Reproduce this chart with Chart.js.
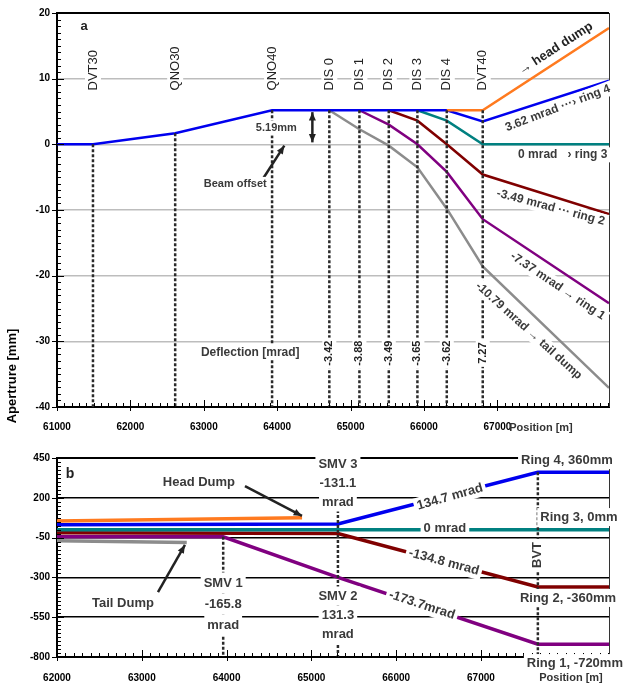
<!DOCTYPE html>
<html>
<head>
<meta charset="utf-8">
<script src="https://cdn.jsdelivr.net/npm/chart.js@4.4.1/dist/chart.umd.min.js"></script>
<style>
  body { margin: 0; background: #fff; }
  #wrap { position: relative; width: 631px; height: 688px; }
  canvas { position: absolute; left: 0; }
  #chartA { top: 0; }
  #chartB { top: 440px; }
</style>
</head>
<body>
<div id="wrap">
  <canvas id="chartA" width="631" height="440"></canvas>
  <canvas id="chartB" width="631" height="248"></canvas>
</div>
<script>
// ---- panel a : aperture vs position ----
const aXTicks = [61000, 62000, 63000, 64000, 65000, 66000, 67000];
const aYTicks = [20, 10, 0, -10, -20, -30, -40];
const elements = ['DVT30', 'QNO30', 'QNO40', 'DIS 0', 'DIS 1', 'DIS 2', 'DIS 3', 'DIS 4', 'DVT40'];
const elementPos = [61490, 62610, 63930, 64710, 65120, 65520, 65910, 66310, 66800];
const elementTop = [0, 1.7, 5.19, 5.19, 5.19, 5.19, 5.19, 5.19, 5.19];
const deflections = ['', '', '', '-3.42', '-3.88', '-3.49', '-3.65', '-3.62', '7.27'];

const ring4X = [61000, 61490, 62610, 63930, 66310, 66800, 68520];
const ring4Y = [0, 0, 1.7, 5.19, 5.19, 3.5, 9.7];
const headX = [66310, 66800, 68520];
const headY = [5.19, 5.19, 17.7];
const ring3X = [65910, 66310, 66800, 68520];
const ring3Y = [5.19, 3.6, 0, 0];
const ring2X = [65520, 65910, 66310, 66800, 68520];
const ring2Y = [5.19, 3.6, 0, -4.6, -10.6];
const ring1X = [65120, 65520, 65910, 66310, 66800, 68520];
const ring1Y = [5.19, 3.0, 0, -4.2, -11.4, -24.2];
const tailX = [64710, 65120, 65520, 65910, 66310, 66800, 68520];
const tailY = [5.19, 2.3, -0.2, -3.5, -9.8, -18.6, -37.1];

// ---- panel b : long view to the rings ----
const bXTicks = [62000, 63000, 64000, 65000, 66000, 67000];
const bYTicks = [450, 200, -50, -300, -550, -800];
const magnets = ['SMV 1', 'SMV 2', 'BVT'];
const magnetPos = [63960, 65313, 67671];
const magnetTop = [-45, 123, 360];

const bHeadX = [62000, 64890];
const bHeadY = [55, 75];
const bRing4X = [62000, 65313, 67671, 68510];
const bRing4Y = [30, 35, 360, 360];
const bRing3X = [62000, 68510];
const bRing3Y = [0, 0];
const bRing2X = [62000, 65313, 67671, 68510];
const bRing2Y = [-20, -25, -360, -360];
const bRing1X = [62000, 63960, 65313, 67671, 68510];
const bRing1Y = [-45, -45, -300, -720, -720];
const bTailX = [62000, 63530];
const bTailY = [-70, -80];

const FONT = 'Arial, "Liberation Sans", sans-serif';
const TXT = '#3a3a3a';

function pts(xs, ys) { return xs.map((x, i) => ({ x: x, y: ys[i] })); }

function line(label, xs, ys, color, width) {
  return { label: label, data: pts(xs, ys), borderColor: color, borderWidth: width,
           pointRadius: 0, tension: 0, fill: false };
}

function dashed(pos, top, bottom) {
  return pos.map((p, i) => ({
    label: 'marker', data: [{ x: p, y: top[i] }, { x: p, y: bottom }],
    borderColor: '#2a2a2a', borderWidth: 2.5, borderDash: [3, 2], pointRadius: 0, fill: false
  }));
}

function note(ctx, n, x, y) {
  ctx.save();
  ctx.translate(x, y);
  ctx.rotate((n.rot || 0) * Math.PI / 180);
  ctx.font = (n.font || 'bold 12px') + ' ' + FONT;
  ctx.textBaseline = 'middle';
  ctx.textAlign = n.align || 'center';
  const lines = n.t.split('\n');
  const lh = n.lh || 15;
  if (n.box) {
    ctx.fillStyle = '#fff';
    lines.forEach((s, i) => {
      const w = ctx.measureText(s).width;
      const yy = (i - (lines.length - 1) / 2) * lh;
      const x0 = n.align === 'left' ? 0 : -w / 2;
      ctx.fillRect(x0 - 3, yy - lh / 2, w + 6, lh);
    });
  }
  ctx.fillStyle = n.color || TXT;
  lines.forEach((s, i) => {
    ctx.fillText(s, 0, (i - (lines.length - 1) / 2) * lh);
  });
  ctx.restore();
}

function arrow(ctx, x1, y1, x2, y2, both) {
  ctx.save();
  ctx.strokeStyle = '#222';
  ctx.fillStyle = '#222';
  ctx.lineWidth = 2.5;
  ctx.beginPath();
  ctx.moveTo(x1, y1);
  ctx.lineTo(x2, y2);
  ctx.stroke();
  const head = (ax, ay, bx, by) => {
    const a = Math.atan2(by - ay, bx - ax);
    ctx.beginPath();
    ctx.moveTo(bx, by);
    ctx.lineTo(bx - 9 * Math.cos(a - 0.4), by - 9 * Math.sin(a - 0.4));
    ctx.lineTo(bx - 9 * Math.cos(a + 0.4), by - 9 * Math.sin(a + 0.4));
    ctx.closePath();
    ctx.fill();
  };
  head(x1, y1, x2, y2);
  if (both) head(x2, y2, x1, y1);
  ctx.restore();
}

// minor ticks, frame and the text notes
const decor = {
  id: 'decor',
  afterDatasetsDraw(chart, args, opts) {
    const ctx = chart.ctx;
    const xs = chart.scales.x, ys = chart.scales.y;
    const a = chart.chartArea;
    ctx.save();
    ctx.strokeStyle = '#000';
    ctx.lineWidth = 1;
    for (let v = xs.min; v <= xs.max; v += opts.minorX) {
      const p = Math.round(xs.getPixelForValue(v)) + 0.5;
      const major = opts.xTicks.includes(v);
      ctx.beginPath();
      ctx.moveTo(p, a.bottom + (major ? 4 : 0));
      ctx.lineTo(p, a.bottom - (major ? 7 : 4));
      ctx.stroke();
    }
    for (let v = ys.min; v <= ys.max; v += opts.minorY) {
      const p = Math.round(ys.getPixelForValue(v)) + 0.5;
      const major = opts.yTicks.includes(v);
      ctx.beginPath();
      ctx.moveTo(a.left - (major ? 5 : 0), p);
      ctx.lineTo(a.left + (major ? 7 : 4), p);
      ctx.stroke();
    }
    // right frame
    ctx.strokeStyle = '#333';
    ctx.beginPath();
    ctx.moveTo(a.right + 0.5, a.top);
    ctx.lineTo(a.right + 0.5, a.bottom);
    ctx.stroke();
    ctx.restore();

    opts.arrows.forEach(r => arrow(ctx, xs.getPixelForValue(r[0]), ys.getPixelForValue(r[1]),
      xs.getPixelForValue(r[2]), ys.getPixelForValue(r[3]), r[4]));
    opts.notes.forEach(n => {
      const x = n.px !== undefined ? n.px : xs.getPixelForValue(n.x);
      const y = n.py !== undefined ? n.py : ys.getPixelForValue(n.y);
      note(ctx, n, x, y);
    });
  }
};

function scales(xTicks, yTicks, xMin, xMax, gridColor, gridWidth, xHeight, xPad) {
  return {
    x: {
      type: 'linear', min: xMin, max: xMax,
      afterBuildTicks: s => { s.ticks = xTicks.map(v => ({ value: v })); },
      afterFit: s => { s.height = xHeight; },
      grid: { display: false, drawTicks: false },
      border: { display: true, color: '#000', width: 2 },
      ticks: { padding: xPad, color: '#000', font: { family: FONT, size: 10, weight: 'bold' },
               maxRotation: 0, autoSkip: false, callback: v => String(v) }
    },
    y: {
      min: yTicks[yTicks.length - 1], max: yTicks[0],
      afterBuildTicks: s => { s.ticks = yTicks.map(v => ({ value: v })); },
      afterFit: s => { s.width = 57; },
      grid: { drawTicks: false, color: gridColor,
              lineWidth: c => (c.tick && c.tick.value === yTicks[0]) ? 2 : gridWidth },
      border: { display: true, color: '#000', width: 2 },
      ticks: { padding: 7, color: '#000', font: { family: FONT, size: 10, weight: 'bold' },
               callback: v => String(v) }
    }
  };
}

// ---------- panel a ----------
const aNotes = [
  { t: 'a', x: 61368, y: 17.9, font: 'bold 13px', color: '#222' },
  { t: 'Apertrure [mm]', px: 12, py: 376, rot: -90, font: 'bold 13px', color: '#000' },
  { t: 'Position [m]', px: 541, py: 428, font: 'bold 11px', color: '#333' },
  { t: 'Deflection [mrad]', x: 63633, y: -31.7, font: 'bold 12px', box: true },
  { t: 'Beam offset', x: 63428, y: -6.1, font: 'bold 11px', box: true },
  { t: '5.19mm', x: 63988, y: 2.5, font: 'bold 11px', box: true },
  { t: '\u2192 head dump', x: 67794, y: 14.6, rot: -33, font: 'bold 13px', color: '#222' },
  { t: '3.62 mrad \u00b7\u00b7\u00b7\u203a ring 4', x: 67822, y: 5.5, rot: -21, font: 'bold 12px', box: true },
  { t: '0 mrad   \u203a ring 3', x: 67890, y: -1.6, font: 'bold 12px', box: true },
  { t: '-3.49 mrad \u00b7\u00b7\u00b7 ring 2', x: 67726, y: -9.6, rot: 15, font: 'bold 12px', box: true },
  { t: '-7.37 mrad \u2192 ring 1', x: 67822, y: -21.6, rot: 34, font: 'bold 12px', box: true },
  { t: '-10.79 mrad \u2192 tail dump', x: 67426, y: -28.4, rot: 42, font: 'bold 12px', box: true }
];
elements.forEach((e, i) => aNotes.push({ t: e, x: elementPos[i], y: 8.2, rot: -90, align: 'left',
  font: '13px', color: '#222', box: true, lh: 16 }));
deflections.forEach((d, i) => { if (d) aNotes.push({ t: d, x: elementPos[i], y: -31.8, rot: -90,
  font: 'bold 11px', color: '#222', box: true, lh: 14 }); });

new Chart(document.getElementById('chartA'), {
  type: 'line',
  data: {
    datasets: dashed(elementPos, elementTop, -40).concat([
      line('head dump', headX, headY, '#ff7a1f', 2.5),
      line('ring 4', ring4X, ring4Y, '#0000ee', 2.5),
      line('ring 3', ring3X, ring3Y, '#008080', 2.5),
      line('ring 2', ring2X, ring2Y, '#800000', 2.5),
      line('ring 1', ring1X, ring1Y, '#800080', 2.5),
      line('tail dump', tailX, tailY, '#8c8c8c', 2.5)
    ])
  },
  options: {
    responsive: false, animation: false,
    layout: { padding: { top: 10, right: 22, left: 0, bottom: 0 } },
    scales: scales(aXTicks, aYTicks, 61000, 68520,
      c => (c.tick && c.tick.value === 20) ? '#000' : '#bdbdbd', 1.5, 33, 14),
    plugins: {
      legend: { display: false }, tooltip: { enabled: false },
      decor: {
        minorX: 100, minorY: 1, xTicks: aXTicks, yTicks: aYTicks,
        arrows: [[63797, -5.4, 64097, -0.2, false], [64479, 4.9, 64479, 0.3, true]],
        notes: aNotes
      }
    }
  },
  plugins: [decor]
});

// ---------- panel b ----------
const bNotes = [
  { t: 'b', x: 62153, y: 349, font: 'bold 14px', color: '#222' },
  { t: 'Position [m]', px: 571, py: 238, font: 'bold 11px', color: '#333' },
  { t: 'Head Dump', x: 63674, y: 299, font: 'bold 13px', box: true, lh: 18 },
  { t: 'Tail Dump', x: 62778, y: -461, font: 'bold 13px', box: true, lh: 18 },
  { t: 'SMV 1\n-165.8\nmrad', x: magnetPos[0], y: -467, font: 'bold 13px', box: true, lh: 21 },
  { t: 'SMV 3\n-131.1\nmrad', x: magnetPos[1], y: 293, font: 'bold 13px', box: true, lh: 19 },
  { t: 'SMV 2\n131.3\nmrad', x: magnetPos[1], y: -536, font: 'bold 13px', box: true, lh: 19 },
  { t: 'BVT', x: magnetPos[2], y: -159, rot: -90, font: 'bold 13px', box: true, lh: 16 },
  { t: '134.7 mrad', x: 66634, y: 205, rot: -16, font: 'bold 13px', box: true, lh: 17 },
  { t: '0 mrad', x: 66575, y: 10, font: 'bold 13px', box: true, lh: 17 },
  { t: '-134.8 mrad', x: 66563, y: -203, rot: 15, font: 'bold 13px', box: true, lh: 17 },
  { t: '-173.7mrad', x: 66304, y: -473, rot: 18, font: 'bold 13px', box: true, lh: 17 },
  { t: 'Ring 4, 360mm', x: 68014, y: 437, font: 'bold 13px', box: true, lh: 18 },
  { t: 'Ring 3, 0mm', x: 68155, y: 79, font: 'bold 13px', box: true, lh: 18 },
  { t: 'Ring 2, -360mm', x: 68026, y: -429, font: 'bold 13px', box: true, lh: 18 },
  { t: 'Ring 1, -720mm', x: 68108, y: -838, font: 'bold 13px', box: true, lh: 18 }
];

new Chart(document.getElementById('chartB'), {
  type: 'line',
  data: {
    datasets: dashed(magnetPos, magnetTop, -800).concat([
      line('head dump', bHeadX, bHeadY, '#ff7a1f', 3.5),
      line('ring 4', bRing4X, bRing4Y, '#0000ee', 3.5),
      line('ring 3', bRing3X, bRing3Y, '#008080', 3.5),
      line('ring 2', bRing2X, bRing2Y, '#800000', 3.5),
      line('ring 1', bRing1X, bRing1Y, '#800080', 3.5),
      line('tail dump', bTailX, bTailY, '#8c8c8c', 3.5)
    ])
  },
  options: {
    responsive: false, animation: false,
    layout: { padding: { top: 18, right: 22, left: 0, bottom: 0 } },
    scales: scales(bXTicks, bYTicks, 62000, 68510, '#000', 1.5, 31, 15),
    plugins: {
      legend: { display: false }, tooltip: { enabled: false },
      decor: {
        minorX: 100, minorY: 25, xTicks: bXTicks, yTicks: bYTicks,
        arrows: [[64217, 274, 64889, 86, false], [63191, -392, 63509, -96, false]],
        notes: bNotes
      }
    }
  },
  plugins: [decor]
});
</script>
</body>
</html>
